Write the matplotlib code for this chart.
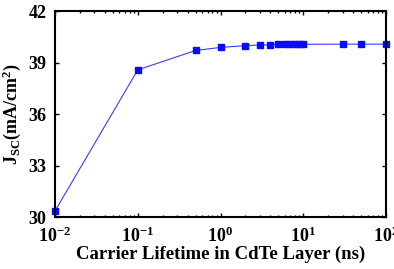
import matplotlib
matplotlib.use("Agg")
import matplotlib.pyplot as plt
from matplotlib.ticker import LogLocator, LogFormatterMathtext, NullFormatter

plt.rcParams['font.family'] = ['Liberation Serif']
plt.rcParams['font.weight'] = 'bold'
plt.rcParams['mathtext.fontset'] = 'custom'
plt.rcParams['mathtext.rm'] = 'Liberation Serif:bold'
plt.rcParams['mathtext.it'] = 'Liberation Serif:bold'
plt.rcParams['mathtext.bf'] = 'Liberation Serif:bold'

lifetime = [0.01, 0.1, 0.5, 1, 2, 3, 4, 5, 6, 7, 8, 9, 10, 30, 50, 100]
jsc = [30.35, 38.57, 39.7, 39.88, 39.98, 40.02, 40.03, 40.05, 40.06, 40.06, 40.06, 40.06, 40.06, 40.07, 40.07, 40.07]
yticks = [30, 33, 36, 39, 42]

fig = plt.figure(figsize=(3.94, 2.69), dpi=100)
ax = fig.add_axes([55/394, 1 - 217/269, (386-55)/394, (217-11)/269])
ax.plot(lifetime, jsc, '-', color='#3b3bff', lw=0.8)
ax.plot(lifetime, jsc, 's', color='#0a0aff', ms=4.2, mec='#0a0aff', clip_on=False)
ax.set_xscale('log')
ax.set_xlim(0.01, 100)
ax.set_ylim(30, 42)
ax.set_yticks(yticks)
ax.xaxis.set_major_locator(LogLocator(base=10, numticks=10))
ax.xaxis.set_major_formatter(LogFormatterMathtext())
ax.xaxis.set_minor_locator(LogLocator(base=10, subs=range(2, 10), numticks=20))
ax.xaxis.set_minor_formatter(NullFormatter())
ax.tick_params(which='both', direction='in', top=True, right=True, labelsize=13, width=1)
ax.tick_params(which='major', length=3)
ax.tick_params(which='minor', length=1.5)
ax.tick_params(axis='y', pad=6)
ax.tick_params(axis='x', pad=7)
for s in ax.spines.values():
    s.set_linewidth(1.5)
ax.set_xlabel('Carrier Lifetime in CdTe Layer (ns)', fontsize=13.5, fontweight='bold', labelpad=0)
ax.set_ylabel(r'J$_{\mathrm{SC}}$(mA/cm$^{\mathrm{2}}$)', fontsize=13, fontweight='bold', labelpad=4)
fig.savefig('out.png', dpi=100)
